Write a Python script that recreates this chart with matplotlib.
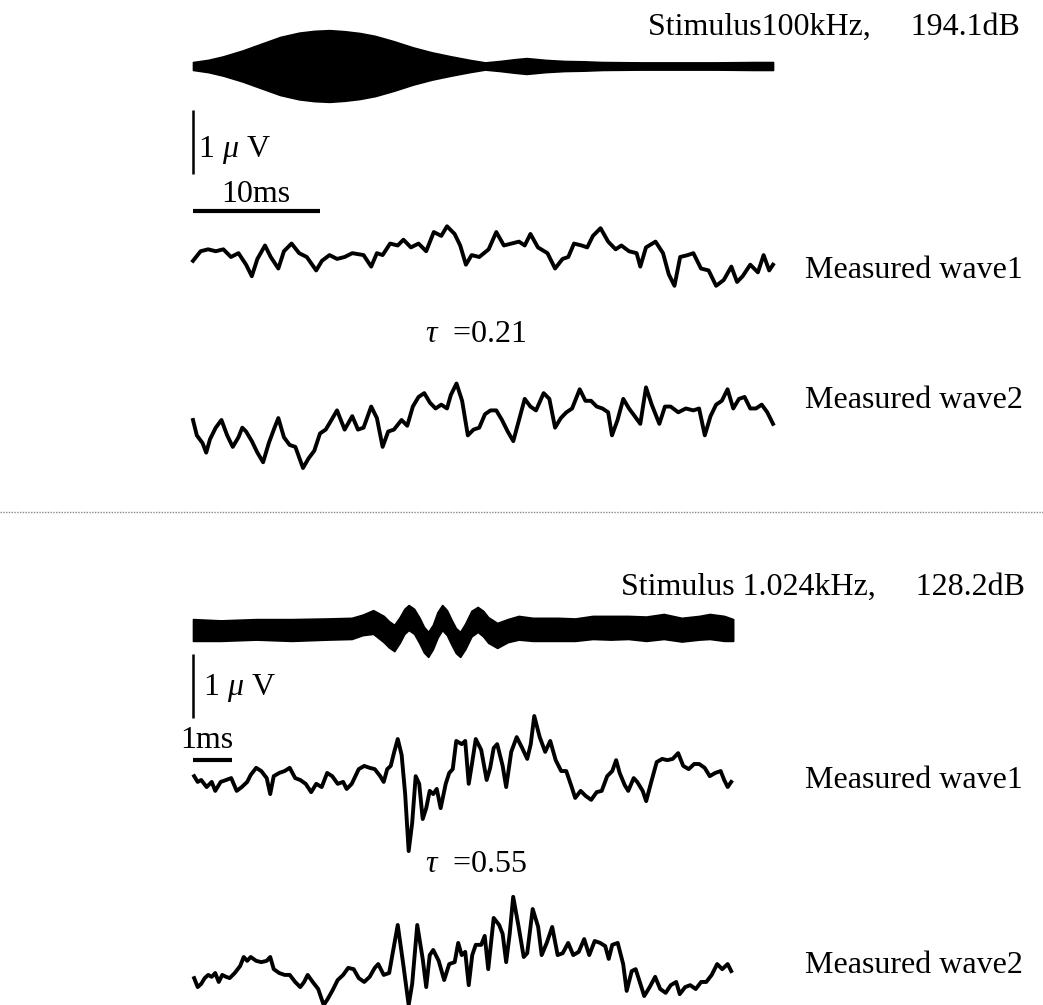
import numpy as np
import matplotlib
matplotlib.use("Agg")
import matplotlib.pyplot as plt

plt.rcParams["font.family"] = ["Liberation Serif", "DejaVu Serif"]
plt.rcParams["mathtext.fontset"] = "custom"
plt.rcParams["mathtext.rm"] = "Liberation Serif"
plt.rcParams["mathtext.it"] = "Liberation Serif:italic"

# ---------- top panel (100 kHz stimulus), time in ms, amplitude in uV ----------
stim1_t = [0.00, 1.19, 2.39, 3.88, 5.37, 6.87, 8.36, 9.55, 10.75, 11.94, 13.13, 14.33,
           15.82, 17.31, 18.81, 20.30, 21.79, 22.99, 24.18, 25.37, 26.27, 27.76, 29.25,
           30.75, 32.24, 35.22, 38.21, 41.19, 44.18, 45.67]
stim1_env = [0.11, 0.17, 0.27, 0.43, 0.62, 0.81, 0.93, 0.98, 1.00, 0.97, 0.92, 0.84,
             0.69, 0.52, 0.38, 0.27, 0.17, 0.10, 0.14, 0.19, 0.22, 0.17, 0.14,
             0.13, 0.11, 0.10, 0.10, 0.10, 0.11, 0.11]

w1_top_t = [0.00, 0.60, 1.19, 1.79, 2.39, 2.99, 3.58, 4.18, 4.63, 5.07, 5.67, 6.12, 6.72,
            7.16, 7.76, 8.36, 8.96, 9.70, 10.15, 10.75, 11.34, 11.94, 12.54, 13.43, 14.03,
            14.48, 14.93, 15.52, 16.12, 16.57, 17.16, 17.76, 18.36, 18.96, 19.55, 20.00,
            20.60, 21.04, 21.49, 21.94, 22.54, 23.28, 23.88, 24.48, 25.07, 25.67, 26.12,
            26.57, 27.16, 27.91, 28.51, 29.10, 29.55, 30.00, 30.60, 31.04, 31.49, 32.09,
            32.69, 33.28, 33.73, 34.33, 34.93, 35.22, 35.67, 36.42, 37.01, 37.46, 37.91,
            38.36, 38.96, 39.40, 40.00, 40.60, 41.19, 41.79, 42.39, 42.84, 43.28, 43.88,
            44.48, 44.93, 45.37, 45.67]
w1_top_v = [-0.06, 0.09, 0.12, 0.09, 0.12, 0.00, 0.06, -0.12, -0.30, -0.03, 0.18, 0.00, -0.18,
            0.09, 0.21, 0.06, 0.00, -0.21, -0.06, 0.03, -0.03, 0.00, 0.06, 0.03, -0.15,
            0.06, 0.03, 0.21, 0.18, 0.27, 0.15, 0.21, 0.09, 0.39, 0.33, 0.48,
            0.36, 0.18, -0.12, 0.03, 0.00, 0.12, 0.39, 0.18, 0.21, 0.24, 0.18,
            0.36, 0.15, 0.06, -0.18, -0.03, 0.00, 0.21, 0.18, 0.15, 0.33, 0.45,
            0.24, 0.12, 0.18, 0.09, 0.06, -0.15, 0.15, 0.24, 0.06, -0.27, -0.45,
            0.00, 0.03, 0.06, -0.18, -0.21, -0.45, -0.36, -0.15, -0.39, -0.30, -0.12,
            -0.24, 0.03, -0.21, -0.12]

w2_top_t = [0.00, 0.30, 0.75, 1.04, 1.34, 1.79, 2.24, 2.69, 3.13, 3.58, 3.88, 4.18, 4.63,
            5.07, 5.52, 5.97, 6.42, 6.72, 7.16, 7.61, 8.06, 8.66, 9.10, 9.55, 10.00, 10.45,
            10.90, 11.34, 11.64, 11.94, 12.54, 12.99, 13.43, 14.03, 14.48, 14.93, 15.37,
            15.82, 16.42, 16.87, 17.31, 17.76, 18.21, 18.66, 19.10, 19.55, 20.00, 20.30,
            20.75, 21.19, 21.64, 22.09, 22.54, 22.99, 23.43, 23.88, 24.33, 24.78, 25.22,
            25.67, 26.12, 26.57, 27.01, 27.61, 28.06, 28.51, 28.96, 29.40, 29.85, 30.45,
            30.90, 31.34, 31.79, 32.24, 32.69, 32.99, 33.43, 33.88, 34.33, 34.78, 35.22,
            35.67, 36.12, 36.72, 37.16, 37.61, 38.21, 38.81, 39.40, 39.85, 40.30, 40.75,
            41.19, 41.64, 42.09, 42.54, 42.99, 43.43, 43.88, 44.33, 44.78, 45.22, 45.67]
w2_top_v = [0.00, -0.24, -0.36, -0.51, -0.30, -0.12, 0.00, -0.24, -0.42, -0.27, -0.12, -0.18, -0.33,
            -0.51, -0.66, -0.36, -0.12, 0.03, -0.27, -0.39, -0.42, -0.75, -0.60, -0.48, -0.21, -0.15,
            0.00, 0.15, 0.00, -0.15, 0.06, -0.15, -0.12, 0.21, 0.03, -0.42, -0.18,
            -0.15, 0.00, -0.09, 0.21, 0.36, 0.42, 0.27, 0.18, 0.24, 0.18, 0.39,
            0.57, 0.30, -0.24, -0.15, -0.12, 0.09, 0.15, 0.15, 0.00, -0.18, -0.33,
            0.00, 0.33, 0.21, 0.15, 0.42, 0.33, -0.12, 0.03, 0.12, 0.18, 0.48,
            0.30, 0.30, 0.21, 0.18, 0.12, -0.24, 0.00, 0.33, 0.18, 0.06, -0.06,
            0.51, 0.24, -0.06, 0.21, 0.21, 0.12, 0.18, 0.15, 0.18, -0.24, 0.06,
            0.24, 0.30, 0.48, 0.18, 0.33, 0.36, 0.18, 0.18, 0.24, 0.12, -0.06]

# ---------- bottom panel (1.024 kHz stimulus) ----------
stim2_t = [0.00, 0.71, 1.62, 2.53, 3.44, 4.07, 4.35, 4.62, 4.89, 5.02, 5.16, 5.30, 5.42,
           5.53, 5.67, 5.80, 5.92, 6.03, 6.15, 6.27, 6.39, 6.51, 6.62, 6.74, 6.85, 6.98,
           7.14, 7.30, 7.44, 7.57, 7.80, 8.07, 8.35, 8.71, 9.35, 9.80, 10.25, 10.71,
           11.16, 11.62, 12.07, 12.53, 12.98, 13.25, 13.62, 13.85]
stim2_hi = [0.17, 0.15, 0.17, 0.17, 0.18, 0.19, 0.24, 0.31, 0.22, 0.14, 0.08, 0.20, 0.33,
            0.39, 0.33, 0.20, 0.05, -0.03, 0.08, 0.28, 0.39, 0.31, 0.17, 0.03, -0.03, 0.10,
            0.30, 0.36, 0.30, 0.20, 0.11, 0.17, 0.22, 0.19, 0.19, 0.18, 0.22, 0.22,
            0.22, 0.21, 0.25, 0.19, 0.22, 0.25, 0.22, 0.17]
stim2_lo = [-0.17, -0.17, -0.15, -0.17, -0.15, -0.14, -0.08, -0.06, -0.19, -0.27, -0.33, -0.20, -0.06,
            0.00, -0.06, -0.20, -0.35, -0.42, -0.30, -0.12, 0.00, -0.08, -0.22, -0.36, -0.42, -0.30,
            -0.10, -0.03, -0.10, -0.20, -0.28, -0.19, -0.15, -0.17, -0.17, -0.17, -0.14, -0.15,
            -0.14, -0.17, -0.14, -0.18, -0.15, -0.14, -0.17, -0.17]

w1_bot_t = [0.03, 0.12, 0.21, 0.35, 0.48, 0.57, 0.71, 0.85, 0.98, 1.12, 1.25, 1.39, 1.48,
            1.62, 1.75, 1.89, 1.98, 2.07, 2.21, 2.35, 2.48, 2.62, 2.75, 2.89, 3.03, 3.16,
            3.30, 3.44, 3.57, 3.71, 3.85, 3.94, 4.07, 4.25, 4.39, 4.53, 4.66, 4.80, 4.89,
            4.98, 5.07, 5.16, 5.25, 5.35, 5.44, 5.53, 5.62, 5.71, 5.80, 5.89, 5.98, 6.07,
            6.16, 6.25, 6.35, 6.48, 6.57, 6.66, 6.75, 6.89, 6.98, 7.07, 7.16, 7.25, 7.39,
            7.53, 7.62, 7.71, 7.80, 7.94, 8.03, 8.16, 8.30, 8.44, 8.57, 8.66, 8.75, 8.89,
            9.03, 9.16, 9.30, 9.44, 9.57, 9.71, 9.80, 9.94, 10.07, 10.21, 10.35, 10.48,
            10.62, 10.75, 10.85, 10.94, 11.07, 11.16, 11.30, 11.39, 11.53, 11.62, 11.75,
            11.89, 12.03, 12.16, 12.30, 12.44, 12.57, 12.71, 12.85, 12.98, 13.12, 13.25,
            13.39, 13.53, 13.62, 13.71, 13.80]
w1_bot_v = [0.06, -0.03, 0.00, -0.11, -0.03, -0.17, -0.03, 0.00, 0.03, -0.17, -0.11, -0.03, 0.08,
            0.19, 0.14, 0.03, -0.22, 0.06, 0.11, 0.14, 0.19, 0.03, 0.00, -0.06, -0.19, -0.06,
            -0.11, 0.11, 0.06, -0.06, -0.03, -0.14, -0.06, 0.17, 0.22, 0.19, 0.17, 0.06, -0.03,
            0.17, 0.22, 0.44, 0.64, 0.39, -0.22, -1.11, -0.67, 0.06, -0.06, -0.61, -0.44, -0.17,
            -0.22, -0.14, -0.44, -0.06, 0.11, 0.17, 0.61, 0.56, 0.61, -0.06, 0.28, 0.64, 0.47,
            0.00, 0.19, 0.50, 0.56, 0.22, -0.11, 0.44, 0.67, 0.50, 0.33, 0.56, 1.00, 0.67,
            0.44, 0.61, 0.31, 0.14, 0.14, -0.11, -0.28, -0.17, -0.25, -0.31, -0.19, -0.17,
            0.06, 0.14, 0.31, 0.11, -0.08, -0.17, 0.03, -0.03, -0.17, -0.33, -0.03,
            0.28, 0.33, 0.31, 0.33, 0.42, 0.22, 0.17, 0.25, 0.25, 0.19, 0.06,
            0.11, 0.14, 0.00, -0.11, -0.03]

w2_bot_t = [0.03, 0.12, 0.21, 0.30, 0.39, 0.48, 0.57, 0.66, 0.75, 0.85, 0.94, 1.07, 1.21,
            1.30, 1.39, 1.48, 1.62, 1.75, 1.89, 1.98, 2.07, 2.21, 2.35, 2.48, 2.62, 2.75,
            2.85, 2.94, 3.07, 3.21, 3.35, 3.44, 3.57, 3.71, 3.85, 3.98, 4.12, 4.25, 4.39,
            4.53, 4.66, 4.75, 4.89, 5.03, 5.12, 5.25, 5.39, 5.53, 5.62, 5.75, 5.89, 5.98,
            6.07, 6.16, 6.30, 6.44, 6.57, 6.71, 6.80, 6.89, 6.98, 7.07, 7.16, 7.25, 7.39,
            7.48, 7.57, 7.71, 7.85, 7.94, 8.03, 8.12, 8.21, 8.35, 8.48, 8.57, 8.71, 8.85,
            8.94, 9.07, 9.21, 9.35, 9.48, 9.62, 9.75, 9.89, 10.03, 10.16, 10.30, 10.44,
            10.57, 10.66, 10.75, 10.89, 11.03, 11.12, 11.25, 11.35, 11.44, 11.57, 11.71,
            11.85, 11.98, 12.12, 12.25, 12.39, 12.48, 12.62, 12.75, 12.89, 13.03, 13.16,
            13.30, 13.44, 13.57, 13.71, 13.80]
w2_bot_v = [-0.08, -0.22, -0.17, -0.08, -0.03, -0.06, 0.00, -0.14, -0.03, -0.06, -0.08, 0.00, 0.11,
            0.25, 0.19, 0.25, 0.19, 0.17, 0.19, 0.25, 0.06, 0.00, -0.03, -0.03, -0.14, -0.22,
            -0.14, -0.03, -0.14, -0.25, -0.50, -0.42, -0.28, -0.11, -0.03, 0.08, 0.06, -0.08, -0.14,
            -0.06, 0.08, 0.14, -0.03, 0.00, 0.31, 0.75, 0.14, -0.50, -0.17, 0.75, 0.22, -0.22,
            0.28, 0.36, 0.19, -0.11, 0.14, 0.17, 0.47, 0.28, 0.33, -0.19, 0.28, 0.44, 0.44,
            0.58, 0.06, 0.86, 0.75, 0.61, 0.17, 0.61, 1.19, 0.72, 0.25, 0.31, 1.00, 0.72,
            0.28, 0.47, 0.72, 0.28, 0.31, 0.47, 0.28, 0.33, 0.53, 0.28, 0.50, 0.47,
            0.42, 0.22, 0.44, 0.47, 0.14, -0.28, 0.03, 0.06, -0.11, -0.36, -0.22,
            -0.06, -0.25, -0.31, -0.19, -0.14, -0.33, -0.22, -0.19, -0.25, -0.14, -0.14,
            -0.03, 0.14, 0.06, 0.14, 0.03]

top_title = "Stimulus100kHz,     194.1dB"
bot_title = "Stimulus 1.024kHz,     128.2dB"
wave_names = ["Measured wave1", "Measured wave2"]
tau_top = 0.21
tau_bot = 0.55

W, H = 1043, 1005
fig = plt.figure(figsize=(W / 100, H / 100), dpi=100)
SPLIT = 512          # pixel row of the dotted separator
UV = 64.0            # pixels per microvolt


def fx(x):
    return x / W


def fy(y):
    return 1 - y / H


def panel(top_px, bot_px, t0_px, px_per_ms):
    # one axes per panel: x in ms, y in uV (0 at panel top, going down)
    ax = fig.add_axes([0, fy(bot_px), 1, (bot_px - top_px) / H])
    ax.set_xlim(-t0_px / px_per_ms, (W - t0_px) / px_per_ms)
    ax.set_ylim(-(bot_px - top_px) / UV, 0)
    ax.axis("off")
    return ax


lw = 2.8
FS = 23

# ---- top panel ----
ax1 = panel(0, SPLIT, 193, 12.7)
y_stim = -66 / UV
env = np.array(stim1_env) * 0.56
ax1.fill_between(stim1_t, y_stim + env, y_stim - env, color="black", lw=1.2, edgecolor="black")
base1 = -257 / UV
base2 = -420 / UV
ax1.plot(w1_top_t, np.array(w1_top_v) + base1, color="black", lw=lw, solid_joinstyle="round")
ax1.plot(w2_top_t, np.array(w2_top_v) + base2, color="black", lw=lw, solid_joinstyle="round")
# scale bars
ax1.plot([0, 0], [-174 / UV, -174 / UV + 1.0], color="black", lw=1.8, solid_capstyle="butt")
ax1.plot([0, 10], [-211 / UV, -211 / UV], color="black", lw=3.0, solid_capstyle="butt")

fig.text(fx(1020), fy(27), top_title, ha="right", va="center", fontsize=FS)
fig.text(fx(198), fy(150), r"1 $\mu$ V", ha="left", va="center", fontsize=FS)
fig.text(fx(256), fy(195), "10ms", ha="center", va="center", fontsize=FS)
fig.text(fx(805), fy(270), wave_names[0], ha="left", va="center", fontsize=FS)
fig.text(fx(425), fy(335), r"$\tau$  =%.2f" % tau_top, ha="left", va="center", fontsize=FS)
fig.text(fx(805), fy(400), wave_names[1], ha="left", va="center", fontsize=FS)

# dotted separator
fig.add_artist(plt.Line2D([0, 1], [fy(SPLIT), fy(SPLIT)], color="#888888", lw=1.0,
                          linestyle=(0, (1, 1))))

# ---- bottom panel ----
ax2 = panel(SPLIT, H, 193, 39.0)
y_stim2 = -(630 - SPLIT) / UV
ax2.fill_between(stim2_t, y_stim2 + np.array(stim2_hi), y_stim2 + np.array(stim2_lo),
                 color="black", lw=1.2, edgecolor="black")
base3 = -(780 - SPLIT) / UV
base4 = -(973 - SPLIT) / UV
ax2.plot(w1_bot_t, np.array(w1_bot_v) + base3, color="black", lw=lw, solid_joinstyle="round")
ax2.plot(w2_bot_t, np.array(w2_bot_v) + base4, color="black", lw=lw, solid_joinstyle="round")
ax2.plot([0, 0], [-(718 - SPLIT) / UV, -(718 - SPLIT) / UV + 1.0], color="black", lw=1.8,
         solid_capstyle="butt")
ax2.plot([0, 1], [-(760 - SPLIT) / UV] * 2, color="black", lw=3.0, solid_capstyle="butt")

fig.text(fx(1025), fy(587), bot_title, ha="right", va="center", fontsize=FS)
fig.text(fx(203), fy(688), r"1 $\mu$ V", ha="left", va="center", fontsize=FS)
fig.text(fx(207), fy(740), "1ms", ha="center", va="center", fontsize=FS)
fig.text(fx(805), fy(780), wave_names[0], ha="left", va="center", fontsize=FS)
fig.text(fx(425), fy(865), r"$\tau$  =%.2f" % tau_bot, ha="left", va="center", fontsize=FS)
fig.text(fx(805), fy(965), wave_names[1], ha="left", va="center", fontsize=FS)

fig.savefig("out.png", dpi=100)
plt.close(fig)
